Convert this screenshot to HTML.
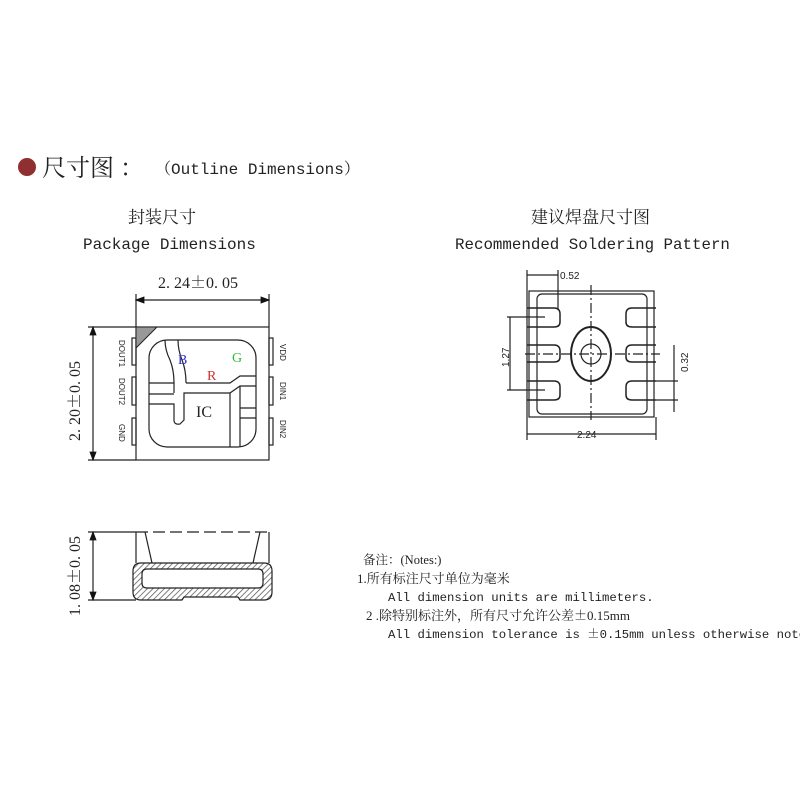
<!DOCTYPE html>
<html><head><meta charset="utf-8"><style>
html,body{margin:0;padding:0;background:#fff;width:800px;height:800px;overflow:hidden}
svg{display:block}
.m{font-family:"Liberation Mono","Noto Serif CJK SC",monospace;fill:#222}
.c{font-family:"Liberation Serif","Noto Serif CJK SC",serif;fill:#222}
.s{font-family:"Liberation Sans",sans-serif;fill:#222}
.pm{font-family:"Noto Serif CJK SC",serif}
</style></head><body>
<svg width="800" height="800" viewBox="0 0 800 800" xmlns="http://www.w3.org/2000/svg">
<defs>
<pattern id="h" width="4" height="4" patternUnits="userSpaceOnUse" patternTransform="rotate(45)">
<line x1="0" y1="0" x2="0" y2="4" stroke="#555" stroke-width="1.5"/></pattern>
<marker id="a" markerWidth="8" markerHeight="8" refX="7" refY="4" orient="auto-start-reverse"><path d="M0,1 L8,4 L0,7 Z" fill="#111"/></marker>
</defs>
<!-- header -->
<circle cx="27" cy="167" r="9" fill="#8f2f2f"/>
<text x="42" y="176" class="c" font-size="24">尺寸图 ：</text>
<text x="155" y="174" class="m" font-size="16">（Outline Dimensions）</text>
<text x="128" y="223" class="c" font-size="17">封装尺寸</text>
<text x="83" y="249" class="m" font-size="16">Package Dimensions</text>
<text x="531" y="223" class="c" font-size="17">建议焊盘尺寸图</text>
<text x="455" y="249" class="m" font-size="15.8">Recommended Soldering Pattern</text>

<g fill="none" stroke="#222" stroke-width="1.2">
<!-- package top view -->
<line x1="136" y1="294" x2="136" y2="327"/><line x1="269" y1="294" x2="269" y2="327"/>
<line x1="136" y1="300" x2="269" y2="300" marker-start="url(#a)" marker-end="url(#a)"/>
<rect x="136" y="327" width="133" height="133"/>
<line x1="88" y1="327" x2="136" y2="327"/><line x1="88" y1="460" x2="136" y2="460"/>
<line x1="93" y1="327" x2="93" y2="460" marker-start="url(#a)" marker-end="url(#a)"/>
<rect x="132" y="338" width="4" height="27"/><rect x="132" y="377" width="4" height="28"/><rect x="132" y="418" width="4" height="27"/>
<rect x="269" y="338" width="4" height="27"/><rect x="269" y="377" width="4" height="28"/><rect x="269" y="418" width="4" height="27"/>
<rect x="149" y="340" width="107" height="107" rx="18"/>
<path d="M165,340 Q165,350 170,360 Q174,370 174,383 L174,393"/>
<path d="M178,340 Q178,350 182,360 Q186,370 186,383"/>
<path d="M186,383 L230,383 L240,376 L256,376"/>
<path d="M149,383 L174,383"/>
<path d="M149,394 L174,394 M149,404 L174,404 L174,420 Q174,425 180,424 L184,420 L184,393 L230,393 L230,447"/>
<path d="M230,393 L240,386 L256,386"/>
<path d="M240,386 L240,447 M240,408 L256,408 M240,418 L256,418"/>
</g>
<path d="M136,327 L157,327 L136,348 Z" fill="#999" stroke="#222"/>
<text x="178" y="364" font-family="Liberation Serif,serif" font-size="14" fill="#3333cc">B</text>
<text x="207" y="380" font-family="Liberation Serif,serif" font-size="14" fill="#cc3333">R</text>
<text x="232" y="362" font-family="Liberation Serif,serif" font-size="14" fill="#33bb33">G</text>
<text x="196" y="417" font-family="Liberation Serif,serif" font-size="16" fill="#222">IC</text>
<text x="158" y="288" class="c" font-size="16">2. 24<tspan class="pm">±</tspan>0. 05</text>
<g class="s" font-size="8">
<text transform="translate(119,340) rotate(90)">DOUT1</text>
<text transform="translate(119,378) rotate(90)">DOUT2</text>
<text transform="translate(119,424) rotate(90)">GND</text>
<text transform="translate(280,344) rotate(90)">VDD</text>
<text transform="translate(280,382) rotate(90)">DIN1</text>
<text transform="translate(280,420) rotate(90)">DIN2</text>
</g>
<text transform="translate(80,441) rotate(-90)" class="c" font-size="16">2. 20<tspan class="pm">±</tspan>0. 05</text>

<!-- side view -->
<g fill="none" stroke="#222" stroke-width="1.2">
<line x1="88" y1="532" x2="136" y2="532"/><line x1="88" y1="600" x2="136" y2="600"/>
<line x1="93" y1="532" x2="93" y2="600" marker-start="url(#a)" marker-end="url(#a)"/>
<line x1="136" y1="532" x2="269" y2="532" stroke-dasharray="12,5"/>
<line x1="136" y1="532" x2="136" y2="563"/><line x1="269" y1="532" x2="269" y2="563"/>
<line x1="145" y1="532" x2="152" y2="563"/><line x1="260" y1="532" x2="253" y2="563"/>
</g>
<path d="M141,563 L264,563 Q272,563 272,571 L272,592 Q272,600 264,600 L240,600 L238,597 L184,597 L182,600 L141,600 Q133,600 133,592 L133,571 Q133,563 141,563 Z M147,569 Q142,569 142,574 L142,583 Q142,588 147,588 L258,588 Q263,588 263,583 L263,574 Q263,569 258,569 Z" fill="url(#h)" fill-rule="evenodd" stroke="#222" stroke-width="1.2"/>
<text transform="translate(80,616) rotate(-90)" class="c" font-size="16">1. 08<tspan class="pm">±</tspan>0. 05</text>

<!-- soldering pattern -->
<g fill="none" stroke="#222" stroke-width="1.2">
<line x1="527" y1="270" x2="527" y2="440"/><line x1="656" y1="417" x2="656" y2="440"/>
<line x1="558" y1="270" x2="558" y2="310"/>
<line x1="527" y1="275" x2="558" y2="275"/>
<line x1="527" y1="434" x2="656" y2="434"/>
<rect x="529" y="291" width="125" height="126"/>
<rect x="537" y="294" width="110" height="120" rx="5"/>
<ellipse cx="591" cy="354" rx="20" ry="27" stroke-width="2"/>
<circle cx="591" cy="354" r="10"/>
<line x1="591" y1="285" x2="591" y2="420" stroke-dasharray="10,3,2,3"/>
<line x1="525" y1="354" x2="660" y2="354" stroke-dasharray="10,3,2,3"/>
<g stroke-width="1.5">
<path d="M527,308 L554,308 Q560,308 560,314 L560,322 Q560,327 554,327 L527,327"/>
<path d="M527,345 L554,345 Q560,345 560,351 L560,357 Q560,362 554,362 L527,362"/>
<path d="M527,381 L554,381 Q560,381 560,387 L560,395 Q560,400 554,400 L527,400"/>
<path d="M656,308 L632,308 Q626,308 626,314 L626,322 Q626,327 632,327 L656,327"/>
<path d="M656,345 L632,345 Q626,345 626,351 L626,357 Q626,362 632,362 L656,362"/>
<path d="M656,381 L632,381 Q626,381 626,387 L626,395 Q626,400 632,400 L656,400"/>
</g>
<line x1="507" y1="317" x2="545" y2="317"/><line x1="507" y1="390" x2="545" y2="390"/>
<line x1="510" y1="317" x2="510" y2="390"/>
<line x1="656" y1="381" x2="678" y2="381"/><line x1="656" y1="400" x2="678" y2="400"/>
<line x1="674" y1="345" x2="674" y2="412"/>
</g>
<text x="560" y="279" class="s" font-size="10">0.52</text>
<text x="577" y="438" class="s" font-size="10">2.24</text>
<text transform="translate(509,367) rotate(-90)" class="s" font-size="10">1.27</text>
<text transform="translate(688,372) rotate(-90)" class="s" font-size="10">0.32</text>

<!-- notes -->
<text x="363" y="564" class="c" font-size="12.5">备注：(Notes:)</text>
<text x="357" y="583" class="c" font-size="13">1.所有标注尺寸单位为毫米</text>
<text x="388" y="601" class="m" font-size="12.3">All dimension units are millimeters.</text>
<text x="366" y="620" class="c" font-size="13">2 .除特别标注外，所有尺寸允许公差<tspan class="pm">±</tspan>0.15mm</text>
<text x="388" y="638" class="m" font-size="12.3">All dimension tolerance is <tspan class="pm">±</tspan>0.15mm unless otherwise noted</text>
</svg>
</body></html>
